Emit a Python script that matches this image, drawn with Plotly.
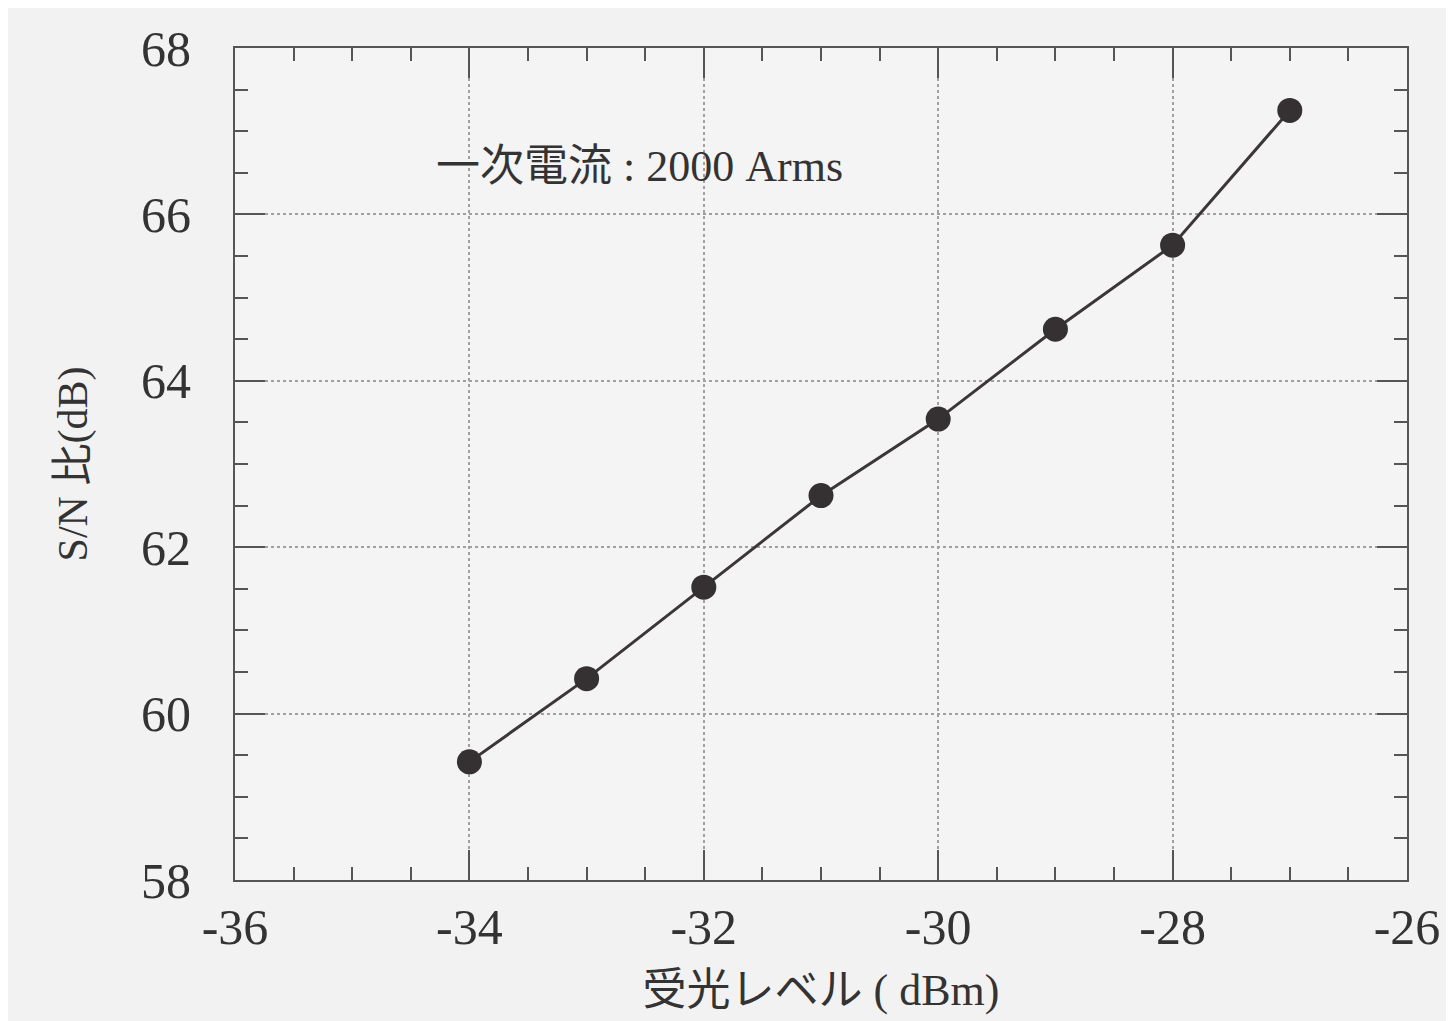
import plotly.graph_objects as go

x_level = [-34, -33, -32, -31, -30, -29, -28, -27]
sn_ratio = [59.42, 60.42, 61.52, 62.62, 63.54, 64.62, 65.63, 67.25]
x_ticks = [-36, -34, -32, -30, -28, -26]
y_ticks = [58, 60, 62, 64, 66, 68]

FONT = "Liberation Serif, Noto Sans CJK JP, serif"
INK = "#3b3638"

fig = go.Figure()
fig.add_trace(go.Scatter(
    x=x_level, y=sn_ratio, mode="lines+markers",
    line=dict(color=INK, width=3),
    marker=dict(size=25, color="#353032"),
    showlegend=False,
))

axis_common = dict(
    showline=True, linecolor="#555", linewidth=2, mirror="allticks",
    ticks="inside", ticklen=30, tickwidth=2, tickcolor="#555",
    showgrid=True, gridcolor="#a0a0a0", griddash="dot", gridwidth=1.5,
    zeroline=False,
    tickfont=dict(family=FONT, size=50, color="#333"),
)

fig.update_xaxes(
    range=[-36, -26], tickvals=x_ticks, ticktext=[str(v) for v in x_ticks],
    minor=dict(dtick=0.5, ticks="inside", ticklen=13, tickwidth=2, tickcolor="#555", showgrid=False),
    title=dict(text="受光レベル ( dBm)", font=dict(family=FONT, size=44, color="#333"), standoff=20),
    ticklabelstandoff=2,
    **axis_common,
)
fig.update_yaxes(
    range=[58, 68], tickvals=y_ticks, ticktext=[str(v) for v in y_ticks],
    minor=dict(dtick=0.5, ticks="inside", ticklen=13, tickwidth=2, tickcolor="#555", showgrid=False),
    title=dict(text="S/N 比(dB)", font=dict(family=FONT, size=42, color="#333"), standoff=40),
    ticklabelstandoff=32,
    **axis_common,
)

fig.add_annotation(
    x=-32.55, y=66.57, xref="x", yref="y",
    text="一次電流 : 2000 Arms", showarrow=False,
    font=dict(family=FONT, size=44, color="#333"),
)

fig.update_layout(
    width=1454, height=1021,
    margin=dict(l=227, r=55, t=34, b=149),
    paper_bgcolor="#f3f2f2", plot_bgcolor="#f5f4f4",
)

fig.write_html("out.html")
